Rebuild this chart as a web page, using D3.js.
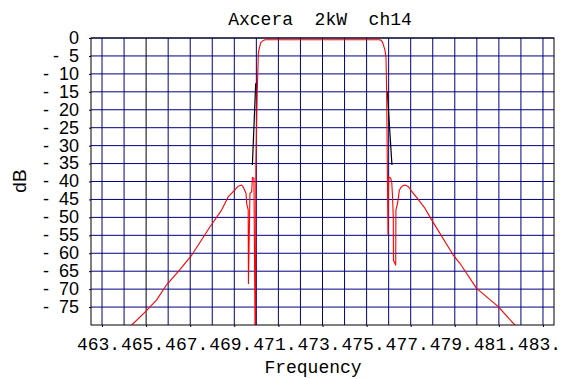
<!DOCTYPE html>
<html>
<head>
<meta charset="utf-8">
<script src="https://cdn.jsdelivr.net/npm/d3@7/dist/d3.min.js"></script>
<style>
  html, body { margin: 0; padding: 0; background: #fff; }
  svg { display: block; }
</style>
</head>
<body>
<svg id="chart" width="561" height="379"></svg>
<script>
// Filter response, ch14 (470–476 MHz)
const responseFreq = [
  464.35, 464.95, 465.48, 465.93, 466.54, 467.07, 467.90, 468.43, 468.73, 468.95,
  469.18, 469.33, 469.41, 469.53, 469.56, 469.63, 469.64, 469.70, 469.71, 469.79,
  469.82, 469.89, 469.94, 469.96, 469.98, 470.04, 470.09, 470.13, 470.20, 470.29,
  470.39, 471.50, 473.00, 474.50, 475.56, 475.65, 475.73, 475.83, 475.88, 475.91,
  475.94, 475.97, 476.00, 476.09, 476.14, 476.18, 476.21, 476.22, 476.32, 476.33,
  476.39, 476.44, 476.48, 476.55, 476.64, 476.74, 476.89, 476.97, 477.12, 477.34,
  477.65, 477.95, 478.93, 479.23, 479.99, 480.97, 481.65, 481.73
];
const responseDb = [
  -80.0, -76.4, -73.0, -68.8, -64.5, -60.5, -52.6, -47.9, -44.2, -42.8,
  -41.3, -41.0, -41.6, -43.3, -46.1, -47.9, -68.4, -47.0, -43.3, -42.8,
  -38.9, -39.1, -80.0, -80.0, -35.0, -15.0, -4.3, -2.9, -1.3, -0.8,
  -0.5, -0.5, -0.5, -0.5, -0.5, -0.6, -1.3, -3.3, -5.2, -15.0,
  -35.0, -54.7, -38.7, -39.1, -40.1, -44.7, -50.0, -62.0, -63.3, -47.9,
  -46.5, -44.7, -42.6, -41.7, -41.2, -41.0, -41.4, -42.1, -43.3, -45.0,
  -47.5, -50.7, -60.5, -62.8, -69.8, -74.9, -79.5, -80.0
];

// Reference edge trace (lower and upper band edge)
const edgeFreq = [469.82, 469.97, null, 475.94, 476.15];
const edgeDb   = [-35.4, -12.6, null, -15.0, -35.4];

// Axis ticks
const freqTicks = [463, 465, 467, 469, 471, 473, 475, 477, 479, 481, 483];
const freqGrid = d3.range(463, 484, 1);
const dbTicks = [0, -5, -10, -15, -20, -25, -30, -35, -40, -45, -50, -55, -60, -65, -70, -75];

const titleText = "Axcera  2kW  ch14";
const xTitle = "Frequency";
const yTitle = "dB";

const W = 561, H = 379;
const margin = { top: 38, right: 7, bottom: 54, left: 91 };
const iw = W - margin.left - margin.right;
const ih = H - margin.top - margin.bottom;

const svg = d3.select("#chart");
const g = svg.append("g").attr("transform", `translate(${margin.left},${margin.top})`);

const x = d3.scaleLinear().domain([462.5, 483.5]).range([0, iw]);
const y = d3.scaleLinear().domain([-80, 0]).range([ih, 0]);

// grid
const grid = g.append("g");
grid.selectAll("line.v").data(freqGrid).join("line")
  .attr("class", "v")
  .attr("x1", d => x(d)).attr("x2", d => x(d))
  .attr("y1", 0).attr("y2", ih)
  .attr("stroke", d => d === 465 ? "#000000" : "#000080")
  .attr("stroke-width", 1);
grid.selectAll("line.h").data(dbTicks).join("line")
  .attr("class", "h")
  .attr("x1", 0).attr("x2", iw)
  .attr("y1", d => y(d)).attr("y2", d => y(d))
  .attr("stroke", "#000080")
  .attr("stroke-width", 1);

g.append("defs").append("clipPath").attr("id", "plotClip")
  .append("rect").attr("x", 0).attr("y", 0).attr("width", iw).attr("height", ih);

const plot = g.append("g").attr("clip-path", "url(#plotClip)");

// edge trace
const edgePts = edgeFreq.map((f, i) => ({ f, v: edgeDb[i] }));
plot.append("path")
  .datum(edgePts)
  .attr("fill", "none")
  .attr("stroke", "#000")
  .attr("stroke-width", 1.2)
  .attr("d", d3.line().defined(d => d.f !== null).x(d => x(d.f)).y(d => y(d.v)));

// response
const respPts = responseFreq.map((f, i) => ({ f, v: responseDb[i] }));
plot.append("path")
  .datum(respPts)
  .attr("fill", "none")
  .attr("stroke", "#ff0000")
  .attr("stroke-width", 1.1)
  .attr("stroke-linejoin", "round")
  .attr("d", d3.line().x(d => x(d.f)).y(d => y(d.v)));

// frame
g.append("rect").attr("x", 0).attr("y", 0).attr("width", iw).attr("height", ih)
  .attr("fill", "none").attr("stroke", "#000").attr("stroke-width", 1);

// x axis
const xAxis = g.append("g").attr("transform", `translate(0,${ih})`)
  .call(d3.axisBottom(x).tickValues(freqTicks).tickFormat(d => d + ".").tickSize(2).tickPadding(10));
xAxis.select(".domain").remove();
xAxis.selectAll("text")
  .attr("font-family", "'Liberation Mono', 'DejaVu Sans Mono', monospace")
  .attr("font-size", 18)
  .attr("dx", -4)
  .attr("fill", "#000");

// y axis
const yAxis = g.append("g")
  .call(d3.axisLeft(y).tickValues(dbTicks)
    .tickFormat(d => d === 0 ? "0" : "-  " + Math.abs(d)).tickSize(2).tickPadding(10));
yAxis.select(".domain").remove();
yAxis.selectAll("text")
  .attr("font-family", "'Liberation Sans', Arial, sans-serif")
  .attr("font-size", 18)
  .attr("dy", "0.3em")
  .style("white-space", "pre")
  .attr("fill", "#000");

// titles
svg.append("text")
  .attr("x", 320).attr("y", 25)
  .attr("text-anchor", "middle")
  .attr("font-family", "'Liberation Mono', 'DejaVu Sans Mono', monospace")
  .attr("font-size", 18)
  .style("white-space", "pre")
  .text(titleText);

svg.append("text")
  .attr("x", 313).attr("y", 373)
  .attr("text-anchor", "middle")
  .attr("font-family", "'Liberation Mono', 'DejaVu Sans Mono', monospace")
  .attr("font-size", 18)
  .text(xTitle);

svg.append("text")
  .attr("transform", "translate(26,181) rotate(-90)")
  .attr("text-anchor", "middle")
  .attr("font-family", "'Liberation Sans', Arial, sans-serif")
  .attr("font-size", 19)
  .text(yTitle);
</script>
</body>
</html>
